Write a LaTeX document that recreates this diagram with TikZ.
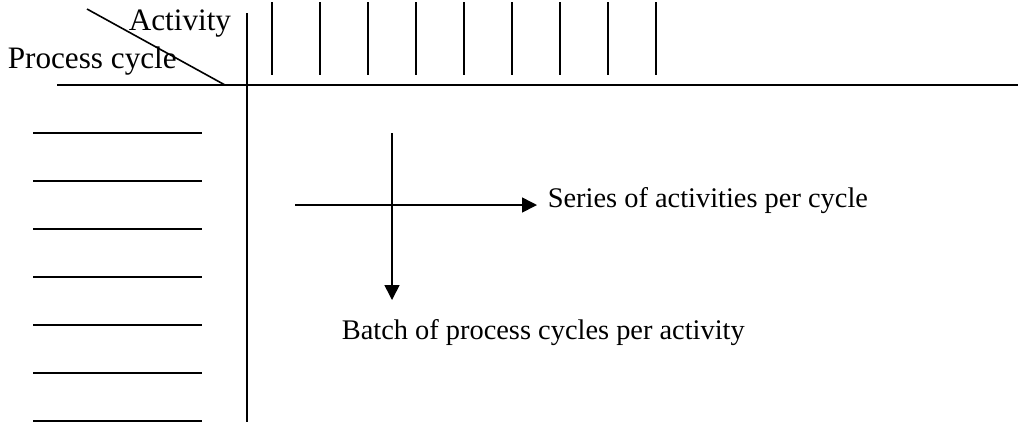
\documentclass[tikz,border=0pt]{standalone}
\usepackage{fontspec}
\setmainfont{Liberation Serif}
\usetikzlibrary{arrows.meta}
\begin{document}
\begin{tikzpicture}[x=0.5pt,y=-0.5pt,line width=0.8pt,
  lbl/.style={inner sep=0pt,anchor=base west,font=\fontsize{14.2}{16}\selectfont},
  hdr/.style={lbl,font=\fontsize{15.6}{18}\selectfont},
  tip/.style={-{Triangle[length=7.5pt,width=7.5pt]}}]
\useasboundingbox (0,0) rectangle (1020,425);
% Draw axes
\draw (57,85) -- (1018,85);
\draw (247,13) -- (247,422);
% Draw diagonal header line
\draw (87,9) -- (225,85);
\node[hdr] (act) at (128,30) {Activity};
\node[hdr] (proc) at (7,68) {Process cycle};
% Draw activity columns
\foreach \x in {272,320,...,656}
  \draw (\x,2) -- (\x,75);
% Draw process cycle rows
\foreach \y in {133,181,...,421}
  \draw (33,\y) -- (202,\y);
% Draw direction arrows
\coordinate (hstart) at (295,205);
\coordinate (hend) at (537,205);
\coordinate (vstart) at (392,133);
\coordinate (vend) at (392,300);
\node[lbl] (series) at (547,207) {Series of activities per cycle};
\node[lbl] (batch) at (341,339) {Batch of process cycles per activity};
\draw[tip] (hstart) -- (hend);
\draw[tip] (vstart) -- (vend);
\end{tikzpicture}
\end{document}
